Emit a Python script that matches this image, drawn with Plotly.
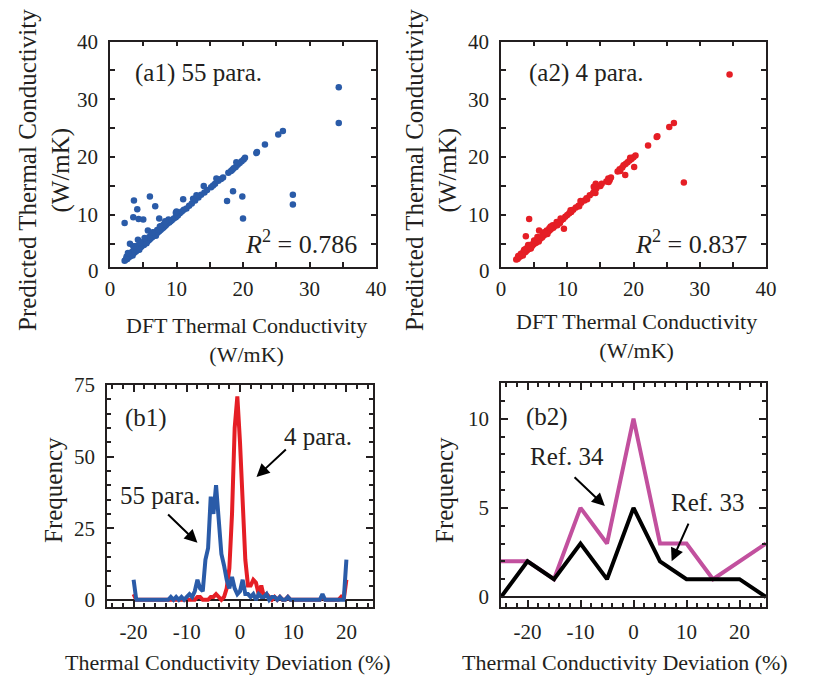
import plotly.graph_objects as go

# ---------------- (a1) 55 parameters: DFT vs predicted ----------------
dft_55 = [
    2.2, 2.4, 2.5, 2.6, 2.8, 2.9, 3.0, 3.1, 3.2, 3.3, 3.4, 3.5, 3.6, 3.7, 3.8, 3.9, 4.0, 4.1, 4.2, 4.3,
    4.4, 4.5, 4.6, 4.7, 4.8, 5.0, 5.1, 5.2, 5.4, 5.5, 5.6, 5.8, 6.0, 6.1, 6.3, 6.5, 6.6, 6.8, 7.0, 7.2,
    7.4, 7.6, 7.8, 8.0, 8.2, 8.4, 8.6, 8.9, 9.1, 9.3, 9.6, 9.9, 10.2, 10.5, 10.8, 11.1, 11.5, 11.9, 12.3,
    12.8, 13.3, 13.7, 14.2, 14.6, 15.2, 15.8, 16.3, 16.7, 17.0, 17.8, 18.2, 18.4, 18.6, 18.9, 19.2, 19.5,
    19.8, 20.1, 20.3,
    2.5, 2.9, 3.3, 3.6, 3.9, 4.3, 4.6, 4.9, 5.3, 5.9, 6.2, 6.7, 7.1, 7.7, 8.1, 8.8, 3.4, 4.4, 5.5, 6.9,
    2.7, 3.8, 12.5, 16.0, 19.0, 10.0, 13.0, 15.5,
    3.0, 3.5, 4.2, 4.5, 5.2, 5.7, 6.4, 7.5, 8.3, 9.9,
    2.2, 3.6, 3.5, 4.1, 4.3, 5.0, 6.0, 6.8, 7.4, 11.0, 14.1, 18.5, 17.6, 19.9, 20.0,
    22.0, 22.1, 23.3, 25.3, 26.0, 27.5, 27.5, 34.4, 34.4,
]
pred_55 = [
    2.1, 2.3, 2.5, 2.4, 2.7, 2.9, 2.8, 3.0, 3.2, 3.1, 3.3, 3.5, 3.4, 3.6, 3.8, 3.7, 3.9, 4.1, 4.0, 4.3,
    4.2, 4.4, 4.6, 4.5, 4.7, 4.9, 4.8, 5.1, 5.2, 5.4, 5.5, 5.6, 5.8, 6.0, 6.1, 6.3, 6.5, 6.6, 6.8, 7.0,
    7.2, 7.4, 7.6, 7.8, 8.0, 8.2, 8.5, 8.7, 8.9, 9.1, 9.4, 9.6, 9.9, 10.3, 10.6, 10.9, 11.1, 11.6, 12.0,
    12.5, 13.0, 13.5, 13.9, 14.3, 14.8, 15.4, 15.9, 16.2, 16.5, 17.3, 17.6, 17.8, 18.1, 18.3, 18.7, 19.0,
    19.3, 19.6, 19.9,
    2.8, 3.3, 3.6, 4.0, 4.3, 4.7, 5.0, 5.3, 5.6, 6.2, 6.6, 7.0, 7.4, 8.1, 8.4, 9.2, 3.0, 4.0, 5.1, 6.4,
    3.4, 4.6, 12.8, 16.3, 19.1, 10.6, 13.4, 15.1,
    5.0, 4.6, 5.7, 5.3, 6.0, 7.3, 7.0, 8.0, 8.9, 10.4,
    8.6, 12.5, 9.6, 11.0, 9.3, 9.2, 13.2, 11.5, 9.4, 12.7, 15.0, 14.1, 12.4, 13.2, 9.4,
    20.7, 20.9, 22.2, 23.9, 24.5, 13.5, 11.8, 32.1, 25.9,
]

# ---------------- (a2) 4 parameters: DFT vs predicted ----------------
dft_4 = [
    2.3, 2.5, 2.6, 2.8, 2.9, 3.0, 3.2, 3.3, 3.4, 3.5, 3.7, 3.8, 3.9, 4.0, 4.2, 4.3, 4.4, 4.6, 4.7, 4.8,
    5.0, 5.1, 5.3, 5.4, 5.6, 5.8, 6.0, 6.2, 6.4, 6.6, 6.8, 7.0, 7.2, 7.4, 7.6, 7.9, 8.1, 8.3, 8.6, 8.8,
    9.1, 9.4, 9.7, 10.0, 10.3, 10.6, 10.9, 11.3, 11.7, 12.1, 12.6, 12.9, 13.4, 13.9, 14.1, 14.4, 15.0,
    15.9, 16.2, 16.6, 17.6, 17.9, 18.3, 18.5, 18.8, 19.1, 19.4, 19.7, 20.0, 20.3,
    2.6, 3.0, 3.4, 3.8, 4.2, 4.6, 5.2, 5.8, 6.3, 6.9, 7.3, 7.8, 8.4, 9.0, 3.3, 4.5, 5.7, 7.0, 8.9,
    10.5, 12.0, 11.8, 15.2, 19.5, 18.0, 16.4, 13.0,
    3.5, 4.1, 5.0, 5.5, 6.5, 7.5, 8.5,
    4.25, 3.75, 5.75, 9.5, 14.25, 14.0, 14.3, 16.25, 18.75, 20.1,
    22.2, 23.5, 23.6, 25.4, 26.1, 27.6, 34.5,
]
pred_4 = [
    2.3, 2.4, 2.6, 2.8, 2.8, 3.0, 3.1, 3.3, 3.4, 3.5, 3.6, 3.8, 3.9, 4.0, 4.1, 4.3, 4.4, 4.5, 4.7, 4.8,
    5.0, 5.1, 5.2, 5.4, 5.6, 5.7, 6.0, 6.1, 6.4, 6.6, 6.7, 7.0, 7.2, 7.4, 7.6, 7.8, 8.1, 8.3, 8.5, 8.8,
    9.1, 9.3, 9.7, 10.0, 10.3, 10.5, 10.9, 11.3, 11.6, 12.1, 12.5, 12.9, 13.4, 13.8, 14.2, 14.6, 15.0,
    15.8, 16.3, 16.5, 17.5, 17.9, 18.2, 18.6, 18.8, 19.1, 19.4, 19.7, 20.0, 20.3,
    2.9, 3.3, 3.7, 4.2, 4.6, 4.9, 5.6, 6.1, 6.7, 7.3, 7.7, 8.2, 8.8, 9.4, 3.0, 4.2, 5.4, 6.7, 8.6,
    10.8, 12.4, 11.5, 15.4, 19.9, 17.6, 16.0, 12.7,
    4.0, 4.8, 5.6, 6.2, 7.0, 8.0, 8.2,
    9.3, 6.3, 7.3, 7.6, 13.8, 14.9, 15.4, 15.7, 16.9, 18.3,
    22.0, 23.5, 23.6, 25.2, 25.9, 15.6, 34.3,
]

# ---------------- (b1) deviation histograms ----------------
dev_b1 = [x * 0.5 for x in range(-40, 41)]
freq_55 = [
    7, 0, 0, 0, 0, 0, 0, 0, 0, 0, 0, 0, 0, 0, 1, 0, 1, 0, 1, 0,      # -20 .. -10.5
    1, 2, 1, 3, 7, 4, 3, 14, 18, 36, 30, 40, 28, 16, 12, 7, 4, 8, 4, 2,  # -10 .. -0.5
    3, 7, 2, 2, 1, 2, 0, 2, 1, 1, 2, 0, 1, 1, 0, 1, 0, 0, 1, 0,      # 0 .. 9.5
    0, 0, 0, 0, 0, 0, 0, 0, 0, 0, 0, 2, 0, 0, 0, 0, 0, 0, 0, 0,      # 10 .. 19.5
    14,                                                              # 20
]
freq_4 = [
    2, 0, 0, 0, 0, 0, 0, 0, 0, 0, 0, 0, 0, 0, 0, 0, 0, 0, 0, 0,      # -20 .. -10.5
    0, 0, 0, 0, 1, 1, 0, 0, 0, 1, 1, 2, 1, 0, 1, 4, 11, 30, 60, 71,  # -10 .. -0.5
    55, 35, 14, 5, 5, 7, 6, 2, 5, 1, 2, 1, 0, 1, 0, 1, 0, 0, 1, 0,   # 0 .. 9.5
    0, 0, 0, 0, 0, 0, 0, 0, 0, 0, 0, 1, 0, 0, 0, 0, 0, 0, 1, 0,      # 10 .. 19.5
    7,                                                               # 20
]

# ---------------- (b2) reference distributions ----------------
dev_b2 = [-25, -20, -15, -10, -5, 0, 5, 10, 15, 20, 25]
freq_ref34 = [2, 2, 1, 5, 3, 10, 3, 3, 1, 2, 3]
freq_ref33 = [0, 2, 1, 3, 1, 5, 2, 1, 1, 1, 0]

# tick labels
scatter_ticks = [10, 20, 30, 40]
dev_ticks = [-20, -10, 0, 10, 20]
dev_ticktext = ["-20", "-10", "0", "10", "20"]

BLUE = "#2a5ba8"
RED = "#e51e25"
PINK = "#c2509e"
INK = "#231f20"
FONT = "Liberation Serif"
W, H = 816, 681


def px(x):
    return x / W


def py(y):
    return 1 - y / H


fig = go.Figure()

fig.add_trace(go.Scatter(x=dft_55, y=pred_55, mode="markers",
                         marker=dict(size=6.5, color=BLUE), xaxis="x", yaxis="y"))
fig.add_trace(go.Scatter(x=dft_4, y=pred_4, mode="markers",
                         marker=dict(size=6.5, color=RED), xaxis="x2", yaxis="y2"))
fig.add_trace(go.Scatter(x=dev_b1, y=freq_4, mode="lines",
                         line=dict(color=RED, width=4), xaxis="x3", yaxis="y3"))
fig.add_trace(go.Scatter(x=dev_b1, y=freq_55, mode="lines",
                         line=dict(color=BLUE, width=4), xaxis="x3", yaxis="y3"))
fig.add_trace(go.Scatter(x=dev_b2, y=freq_ref34, mode="lines",
                         line=dict(color=PINK, width=4), xaxis="x4", yaxis="y4"))
fig.add_trace(go.Scatter(x=dev_b2, y=freq_ref33, mode="lines",
                         line=dict(color="#000000", width=4), xaxis="x4", yaxis="y4"))

tickfont = dict(family=FONT, size=21, color=INK)


def axis(domain, rng, minor_dtick, anchor, tickvals, ticktext=None, major_len=5,
         minor_len=5, zeroline=False, standoff=4):
    return dict(
        domain=domain, range=rng, anchor=anchor, automargin=False,
        showline=True, linecolor=INK, linewidth=1.8, mirror="allticks",
        ticks="inside", ticklen=major_len, tickwidth=1.5, tickcolor=INK,
        showgrid=False, zeroline=zeroline, zerolinecolor=INK, zerolinewidth=2,
        tickfont=tickfont, ticklabelstandoff=standoff,
        tickmode="array", tickvals=tickvals,
        ticktext=ticktext if ticktext is not None else [str(v) for v in tickvals],
        minor=dict(dtick=minor_dtick, tick0=0, ticks="inside", ticklen=minor_len,
                   tickwidth=1.5, tickcolor=INK, showgrid=False),
    )


fig.update_layout(
    width=W, height=H,
    margin=dict(l=0, r=0, t=0, b=0, pad=0, autoexpand=False),
    paper_bgcolor="white", plot_bgcolor="white", showlegend=False,
    font=dict(family=FONT, color=INK),
    xaxis=axis([px(110), px(376)], [0, 40], 5, "y", [0] + scatter_ticks, standoff=2),
    yaxis=axis([py(267), py(41.5)], [1.0, 40], 5, "x", scatter_ticks, standoff=6),
    xaxis2=axis([px(501), px(766)], [0, 40], 5, "y2", [0] + scatter_ticks, standoff=2),
    yaxis2=axis([py(267), py(41.5)], [1.0, 40], 5, "x2", scatter_ticks, standoff=6),
    xaxis3=axis([px(107), px(373)], [-25, 25], 2, "y3", dev_ticks, dev_ticktext,
                major_len=7, minor_len=4, standoff=5),
    yaxis3=axis([py(607), py(385)], [-2.5, 75], 5, "x3", [0, 25, 50, 75],
                major_len=7, minor_len=4, zeroline=True, standoff=6),
    xaxis4=axis([px(501), px(766)], [-25, 25], 2, "y4", dev_ticks, dev_ticktext,
                major_len=7, minor_len=4, standoff=5),
    yaxis4=axis([py(607), py(383)], [-0.56, 12], 1, "x4", [0, 5, 10],
                major_len=7, minor_len=4, zeroline=True, standoff=6),
)

ann = []
# "0" labels at the foot of the scatter y axes (value 0 sits just below the frame)
for xpix in (101, 492):
    ann.append(dict(x=px(xpix), y=py(271), xref="paper", yref="paper", text="0",
                    showarrow=False, xanchor="right", yanchor="middle", font=tickfont))

label_font = dict(family=FONT, size=25, color=INK)
r2_font = dict(family=FONT, size=26, color=INK)
ann += [
    dict(x=3.4, y=34.6, xref="x", yref="y", text="(a1) 55 para.", showarrow=False,
         xanchor="left", yanchor="middle", font=label_font),
    dict(x=37.4, y=5.2, xref="x", yref="y", text="<i>R</i><sup>2</sup> = 0.786",
         showarrow=False, xanchor="right", yanchor="middle", font=r2_font),
    dict(x=3.9, y=34.6, xref="x2", yref="y2", text="(a2) 4 para.", showarrow=False,
         xanchor="left", yanchor="middle", font=label_font),
    dict(x=37.5, y=5.2, xref="x2", yref="y2", text="<i>R</i><sup>2</sup> = 0.837",
         showarrow=False, xanchor="right", yanchor="middle", font=r2_font),
    dict(x=-17.6, y=63.5, xref="x3", yref="y3", text="(b1)", showarrow=False, font=label_font),
    dict(x=-14.9, y=36.3, xref="x3", yref="y3", text="55 para.", showarrow=False, font=label_font),
    dict(x=14.6, y=56.9, xref="x3", yref="y3", text="4 para.", showarrow=False, font=label_font),
    dict(x=-16.3, y=10.1, xref="x4", yref="y4", text="(b2)", showarrow=False, font=label_font),
    dict(x=-12.6, y=7.9, xref="x4", yref="y4", text="Ref. 34", showarrow=False, font=label_font),
    dict(x=14.1, y=5.3, xref="x4", yref="y4", text="Ref. 33", showarrow=False, font=label_font),
]

# arrows (head at x,y; tail at ax,ay)
arrows = [
    ("x3", "y3", -8.0, 19.9, -13.8, 30.3),
    ("x3", "y3", 3.1, 42.9, 8.9, 53.0),
    ("x4", "y4", -5.4, 5.1, -11.4, 6.8),
    ("x4", "y4", 7.2, 2.0, 10.5, 4.2),
]
for xr, yr, hx, hy, tx, ty in arrows:
    ann.append(dict(x=hx, y=hy, ax=tx, ay=ty, xref=xr, yref=yr, axref=xr, ayref=yr,
                    text="", showarrow=True, arrowhead=2, arrowsize=1.3,
                    arrowwidth=2, arrowcolor="#000000"))

title_font = dict(family=FONT, size=22, color=INK)
vtitle_font = dict(family=FONT, size=25, color=INK)


def title(x, y, text, angle=0):
    return dict(x=px(x), y=py(y), xref="paper", yref="paper", textangle=angle,
                xanchor="center", yanchor="middle", text=text, showarrow=False,
                font=vtitle_font if angle else title_font)


ann += [
    title(45, 170, "Predicted Thermal Conductivity<br>(W/mK)", -90),
    title(432, 170, "Predicted Thermal Conductivity<br>(W/mK)", -90),
    title(246, 340, "DFT Thermal Conductivity<br>(W/mK)"),
    title(636, 336, "DFT Thermal Conductivity<br>(W/mK)"),
    title(53, 490, "Frequency", -90),
    title(444, 490, "Frequency", -90),
    title(228, 662, "Thermal Conductivity Deviation (%)"),
    title(625, 662, "Thermal Conductivity Deviation (%)"),
]
fig.update_layout(annotations=ann)

fig.write_html("out.html")
